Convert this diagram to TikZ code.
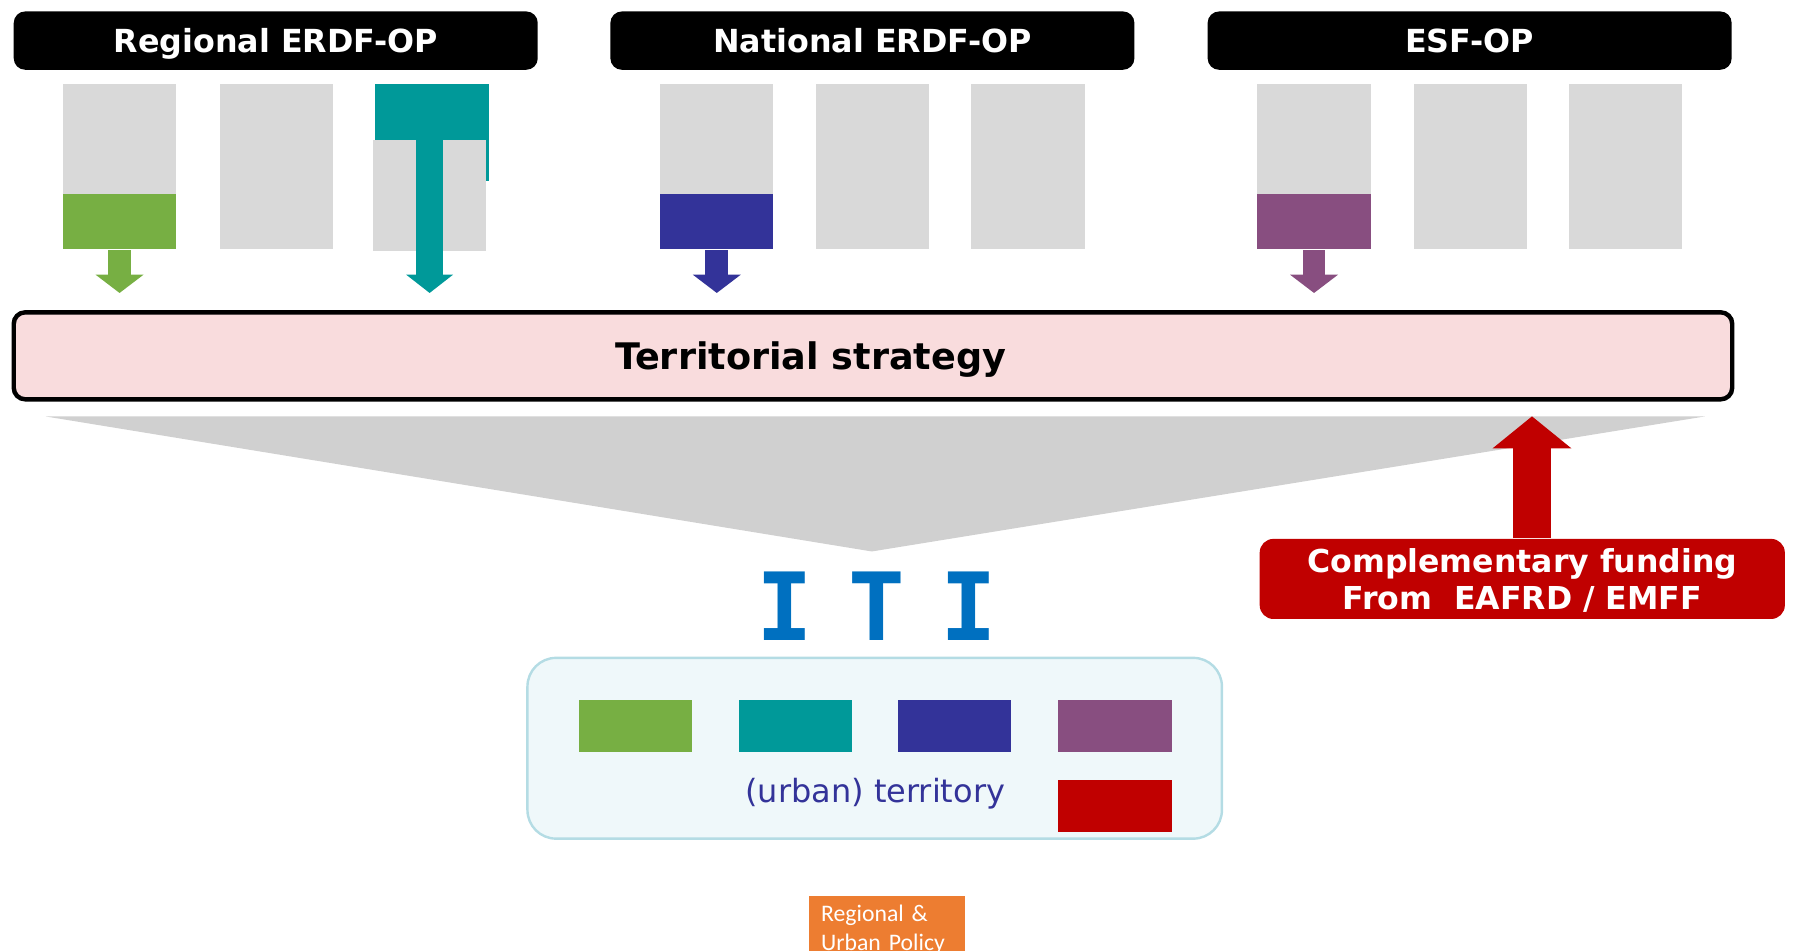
\documentclass[tikz,border=0pt]{standalone}
\usepackage{fontspec}
\setmainfont{DejaVu Sans}
\newfontfamily\itifont{DejaVu Sans Mono}
\newfontfamily\policyfont{Carlito}
\usetikzlibrary{arrows.meta}

\definecolor{opgreen}{HTML}{77AF43}
\definecolor{opteal}{HTML}{009999}
\definecolor{opblue}{HTML}{333399}
\definecolor{oppurple}{HTML}{884E80}
\definecolor{fundred}{HTML}{C00000}
\definecolor{itiblue}{HTML}{0070C0}
\definecolor{boxgrey}{HTML}{D9D9D9}
\definecolor{funnelgrey}{HTML}{D0D0D0}
\definecolor{strategypink}{HTML}{F9DCDD}
\definecolor{areafill}{HTML}{EFF8FA}
\definecolor{areaedge}{HTML}{B4DCE4}
\definecolor{policyorange}{HTML}{ED7D31}

\tikzset{
  opbar/.style = {fill=black, rounded corners=1mm, minimum width=45.8mm, minimum height=5.1mm,
                  inner sep=0pt, text depth=0pt, text=white, font=\fontsize{7.9pt}{9pt}\selectfont\bfseries},
  pillar/.style = {fill=boxgrey, minimum width=9.9mm, minimum height=14.5mm, inner sep=0pt},
  share/.style = {fill=#1, minimum width=9.9mm, minimum height=4.8mm, inner sep=0pt, anchor=south},
  chip/.style = {fill=#1, minimum width=9.9mm, minimum height=4.5mm, inner sep=0pt},
  blockarrow/.style n args = {4}{draw=#1, line width=#2,
                  -{Triangle[width=#3, length=#4, line width=0pt, fill=#1]}},
}

\begin{document}
\begin{tikzpicture}[x=0.1mm, y=-0.1mm]
\useasboundingbox (0,0) rectangle (1568,831);
\clip (0,0) rectangle (1568,831);

% operational programmes
\node[opbar] (regional) at (241,35.5) {Regional ERDF-OP};
\node[opbar] (national) at (762.5,35.5) {National ERDF-OP};
\node[opbar] (esf) at (1284.5,35.5) {ESF-OP};

% priority axes
\node[pillar] (reg1) at (104.5,145.5) {};
\node[pillar] (reg2) at (241.5,145.5) {};
\node[fill=opteal, minimum width=9.9mm, minimum height=8.5mm, inner sep=0pt] (reg3top) at (377.5,115.5) {};
\node[pillar, minimum height=9.7mm] (reg3) at (375.5,170.5) {};
\node[pillar] (nat1) at (626.5,145.5) {};
\node[pillar] (nat2) at (762.5,145.5) {};
\node[pillar] (nat3) at (898.5,145.5) {};
\node[pillar] (esf1) at (1148.5,145.5) {};
\node[pillar] (esf2) at (1285.5,145.5) {};
\node[pillar] (esf3) at (1420.5,145.5) {};
\node[share=opgreen] (reg1share) at (reg1.south) {};
\node[share=opblue] (nat1share) at (nat1.south) {};
\node[share=oppurple] (esf1share) at (esf1.south) {};

% strategy
\node[draw, line width=1.1pt, rounded corners=1mm, fill=strategypink, minimum width=150.2mm,
      minimum height=7.6mm, inner sep=0pt] (strategy) at (763,311) {};
\node[font=\fontsize{9.1pt}{11pt}\selectfont\bfseries, text depth=0pt] (strategytext) at (708.5,311) {Territorial strategy};

\draw[blockarrow={opgreen}{2mm}{4.2mm}{1.6mm}, shorten >=1.5mm] (reg1share.south) -- (reg1share.south |- strategy.north);
\draw[blockarrow={opteal}{2.3mm}{4.1mm}{1.6mm}, shorten >=1.5mm] (reg3.north) -- (reg3.north |- strategy.north);
\draw[blockarrow={opblue}{2mm}{4.2mm}{1.6mm}, shorten >=1.5mm] (nat1share.south) -- (nat1share.south |- strategy.north);
\draw[blockarrow={oppurple}{2mm}{4.2mm}{1.6mm}, shorten >=1.5mm] (esf1share.south) -- (esf1share.south |- strategy.north);

% funnel
\fill[funnelgrey] (40,364) -- (1490,364) -- (762,482) -- cycle;

% complementary funding
\node[fill=fundred, rounded corners=1.2mm, minimum width=45.9mm, minimum height=7mm, inner sep=0pt,
      text depth=0pt, text=white, align=center, font=\fontsize{7.85pt}{9.4pt}\selectfont\bfseries] (funding) at (1330.5,506)
      {Complementary funding\\From\ \ EAFRD / EMFF};
\coordinate (fundtop) at ([xshift=0.85mm]funding.north);
\draw[blockarrow={fundred}{3.4mm}{6.9mm}{2.8mm}, shorten >=1.3mm] (fundtop) -- (fundtop |- strategy.south);

% ITI
\node[text=itiblue, font=\itifont\bfseries\fontsize{23.4pt}{24pt}\selectfont, inner sep=0pt] (iti) at (766,530)
      {I\hspace{8.8pt}T\hspace{8.8pt}I};

% territory
\node[draw=areaedge, line width=0.6pt, fill=areafill, rounded corners=2.5mm, minimum width=60.7mm,
      minimum height=15.8mm, inner sep=0pt] (territory) at (764.5,654) {};
\node[chip=opgreen] (cgreen) at (555.5,634.5) {};
\node[chip=opteal] (cteal) at (695.5,634.5) {};
\node[chip=opblue] (cblue) at (834.5,634.5) {};
\node[chip=oppurple] (cpurple) at (974.5,634.5) {};
\node[chip=fundred] (cred) at (974.5,704.5) {};
\node[text=opblue, font=\fontsize{7.95pt}{9pt}\selectfont] (urban) at (765,694) {(urban) territory};

% logo
\node[fill=policyorange, text=white, anchor=north west, minimum height=6mm, inner xsep=1.1mm,
      inner ysep=0.8mm, text width=11.5mm, align=left,
      font=\policyfont\fontsize{5.9pt}{7.1pt}\selectfont] (policy) at (706,782) {Regional \&\\Urban Policy};
\end{tikzpicture}
\end{document}
